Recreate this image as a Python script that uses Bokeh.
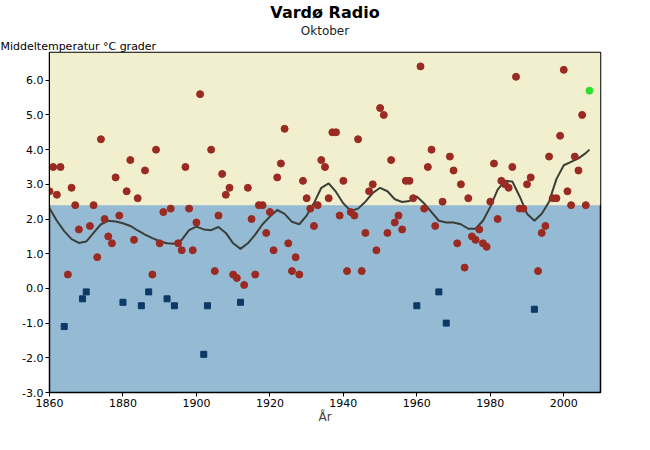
from bokeh.plotting import figure
from bokeh.models import BoxAnnotation, FixedTicker, NumeralTickFormatter, Title
from bokeh.embed import file_html
from bokeh.resources import INLINE

years = list(range(1860, 2008))
temps = [
    2.8, 3.5, 2.7, 3.5, -1.1, 0.4, 2.9, 2.4, 1.7, -0.3,
    -0.1, 1.8, 2.4, 0.9, 4.3, 2.0, 1.5, 1.3, 3.2, 2.1,
    -0.4, 2.8, 3.7, 1.4, 2.6, -0.5, 3.4, -0.1, 0.4, 4.0,
    1.3, 2.2, -0.3, 2.3, -0.5, 1.3, 1.1, 3.5, 2.3, 1.1,
    1.9, 5.6, -1.9, -0.5, 4.0, 0.5, 2.1, 3.3, 2.7, 2.9,
    0.4, 0.3, -0.4, 0.1, 2.9, 2.0, 0.4, 2.4, 2.4, 1.6,
    2.2, 1.1, 3.2, 3.6, 4.6, 1.3, 0.5, 0.9, 0.4, 3.1,
    2.6, 2.3, 1.8, 2.4, 3.7, 3.5, 2.6, 4.5, 4.5, 2.1,
    3.1, 0.5, 2.2, 2.1, 4.3, 0.5, 1.6, 2.8, 3.0, 1.1,
    5.2, 5.0, 1.6, 3.7, 1.9, 2.1, 1.7, 3.1, 3.1, 2.6,
    -0.5, 6.4, 2.3, 3.5, 4.0, 1.8, -0.1, 2.5, -1.0, 3.8,
    3.4, 1.3, 3.0, 0.6, 2.6, 1.5, 1.4, 1.7, 1.3, 1.2,
    2.5, 3.6, 2.0, 3.1, 3.0, 2.9, 3.5, 6.1, 2.3, 2.3,
    3.0, 3.2, -0.6, 0.5, 1.6, 1.8, 3.8, 2.6, 2.6, 4.4,
    6.3, 2.8, 2.4, 3.8, 3.4, 5.0, 2.4,
]
last_year = [2007]
last_temp = [5.7]

curve_years = [1860, 1862, 1864, 1866, 1868, 1870, 1872, 1874, 1876, 1878,
               1880, 1882, 1884, 1886, 1888, 1890, 1892, 1894, 1896, 1898,
               1900, 1902, 1904, 1906, 1908, 1910, 1912, 1914, 1916, 1918,
               1920, 1922, 1924, 1926, 1928, 1930, 1932, 1934, 1936, 1938,
               1940, 1942, 1944, 1946, 1948, 1950, 1952, 1954, 1956, 1958,
               1960, 1962, 1964, 1966, 1968, 1970, 1972, 1974, 1976, 1978,
               1980, 1982, 1984, 1986, 1988, 1990, 1992, 1994, 1996, 1998,
               2000, 2002, 2004, 2006, 2007]
curve_vals = [2.31, 1.95, 1.65, 1.42, 1.31, 1.35, 1.6, 1.85, 1.95, 1.93,
              1.88, 1.8, 1.67, 1.55, 1.45, 1.36, 1.3, 1.29, 1.4, 1.68,
              1.78, 1.7, 1.68, 1.77, 1.6, 1.3, 1.14, 1.3, 1.55, 1.85,
              2.07, 2.26, 2.15, 1.92, 1.85, 2.1, 2.46, 2.9, 3.03, 2.78,
              2.45, 2.23, 2.3, 2.5, 2.75, 2.9, 2.8, 2.57, 2.49, 2.52,
              2.65, 2.45, 2.2, 1.95, 1.9, 1.9, 1.85, 1.72, 1.72, 1.95,
              2.35, 2.85, 3.1, 3.08, 2.65, 2.15, 1.95, 2.15, 2.5, 3.15,
              3.55, 3.65, 3.75, 3.9, 4.0]

split_value = 2.4
x_ticks = [1860, 1880, 1900, 1920, 1940, 1960, 1980, 2000]
y_ticks = [-3, -2, -1, 0, 1, 2, 3, 4, 5, 6]

FONT = "DejaVu Sans"

p = figure(width=650, height=450, output_backend="svg", toolbar_location=None,
           x_range=(1860, 2010), y_range=(-3, 6.8),
           frame_width=551, frame_height=340,
           min_border_left=49, min_border_right=50, min_border_top=0, min_border_bottom=60)

p.background_fill_color = "#94BAD4"
p.border_fill_color = "white"
p.outline_line_color = "black"
p.outline_line_width = 1.5
p.grid.visible = False

p.add_layout(BoxAnnotation(bottom=split_value, fill_color="#F1EFCD", fill_alpha=1.0,
                           line_alpha=0, level="underlay"))

p.title = Title(text="Vardø Radio", align="center", text_font=FONT, text_font_size="16px",
                text_font_style="bold", text_color="black", offset=11, standoff=0)
p.add_layout(Title(text="Middeltemperatur °C grader", align="left", text_font=FONT,
                   text_font_size="11px", text_font_style="normal", text_color="black",
                   offset=-49, standoff=0), "above")
p.add_layout(Title(text="Oktober", align="center", text_font=FONT, text_font_size="12px",
                   text_font_style="normal", text_color="#222222", offset=11, standoff=0), "above")

red_x = [y for y, t in zip(years, temps) if t >= 0]
red_y = [t for t in temps if t >= 0]
blue_x = [y for y, t in zip(years, temps) if t < 0]
blue_y = [t for t in temps if t < 0]

p.line(curve_years, curve_vals, line_color="#3A3F38", line_width=2)
p.scatter(red_x, red_y, marker="circle", size=7, fill_color="#9A2A22", line_color="#9A2A22")
p.scatter(blue_x, blue_y, marker="square", size=6, fill_color="#0C3966", line_color="#0C3966")
p.scatter(last_year, last_temp, marker="circle", size=7, fill_color="#2EE02E", line_color="#2EE02E")

for ax in (p.xaxis[0], p.yaxis[0]):
    ax.axis_line_color = "black"
    ax.major_tick_line_color = "black"
    ax.major_tick_out = 4
    ax.major_tick_in = 0
    ax.minor_tick_line_color = None
    ax.major_label_text_font = FONT
    ax.major_label_text_font_size = "11px"
    ax.major_label_text_color = "black"
    ax.major_label_standoff = 2

p.xaxis.ticker = FixedTicker(ticks=x_ticks)
p.yaxis.ticker = FixedTicker(ticks=y_ticks)
p.yaxis.formatter = NumeralTickFormatter(format="0.0")
p.xaxis.axis_label = "År"
p.xaxis.axis_label_text_font = FONT
p.xaxis.axis_label_text_font_size = "12px"
p.xaxis.axis_label_text_font_style = "normal"
p.xaxis.axis_label_standoff = 0

open("out.html", "w").write(file_html(p, INLINE))
